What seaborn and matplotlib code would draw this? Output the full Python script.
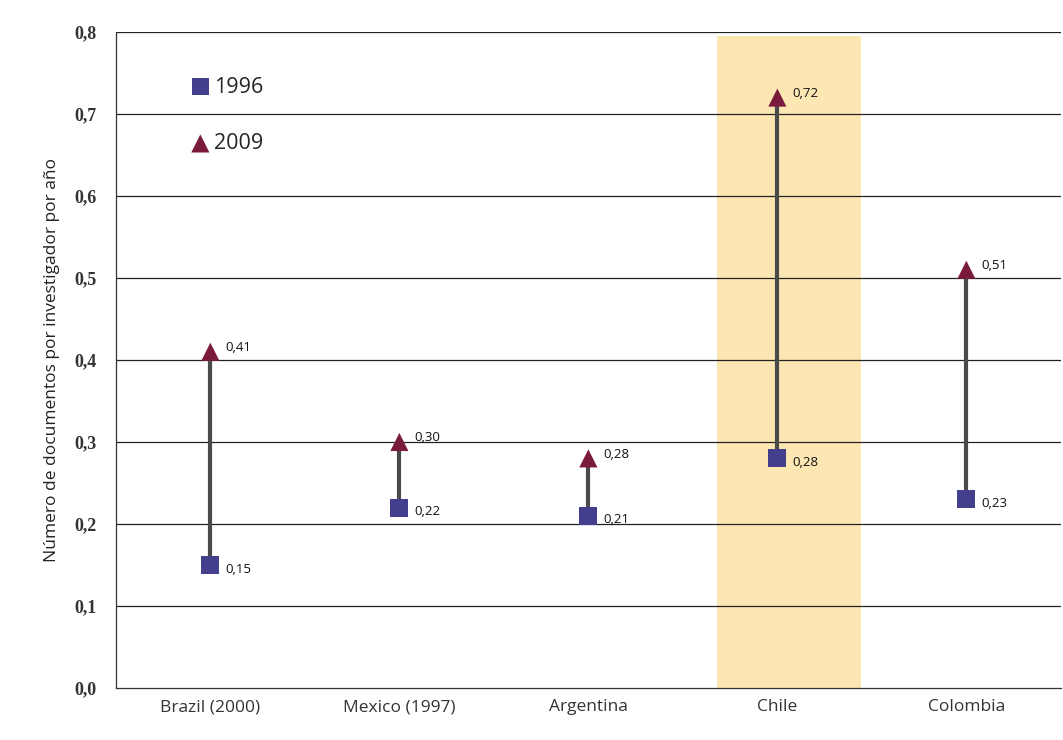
import matplotlib
matplotlib.use("Agg")
import matplotlib.pyplot as plt
from matplotlib.ticker import FixedLocator, FuncFormatter
import seaborn as sns
import pandas as pd

# Documents per researcher per year, two reference years
countries = ["Brazil (2000)", "Mexico (1997)", "Argentina", "Chile", "Colombia"]
values_1996 = [0.15, 0.22, 0.21, 0.28, 0.23]
values_2009 = [0.41, 0.30, 0.28, 0.72, 0.51]
highlight = "Chile"

sns.set_theme(style="white")
plt.rcParams["font.family"] = ["Open Sans", "DejaVu Sans"]

pos = list(range(len(countries)))
df = pd.DataFrame({
    "pos": pos + pos,
    "valor": values_1996 + values_2009,
    "serie": ["1996"] * len(countries) + ["2009"] * len(countries),
})

fig = plt.figure(figsize=(10.63, 7.40), dpi=100)
ax = fig.add_axes([0.109, 0.0703, 0.889, 0.8865])

# highlighted country band
hi = countries.index(highlight)
ax.axvspan(hi - 0.32, hi + 0.44, ymin=0, ymax=0.994, color="#FCE7B3", zorder=0, lw=0)

# horizontal gridlines
for y in [0.1, 0.2, 0.3, 0.4, 0.5, 0.6, 0.7, 0.8]:
    ax.axhline(y, color="#222222", lw=0.9, zorder=1)

# connectors between the two years
ax.vlines(pos, values_1996, values_2009, color="#4a4a4a", lw=3, zorder=2)

sns.scatterplot(data=df, x="pos", y="valor", hue="serie", style="serie",
                markers={"1996": "s", "2009": "^"},
                palette={"1996": "#433f8c", "2009": "#7a1a3c"},
                s=170, edgecolor="none", linewidth=0, ax=ax, zorder=3, legend=False)

def fmt(v, d=2):
    return f"{v:.{d}f}".replace(".", ",")

for x, v in zip(pos, values_1996):
    ax.annotate(fmt(v), (x, v), xytext=(11, -3), textcoords="offset points",
                fontsize=9.5, va="center", ha="left", color="#111111", zorder=4)
for x, v in zip(pos, values_2009):
    ax.annotate(fmt(v), (x, v), xytext=(11, 3), textcoords="offset points",
                fontsize=9.5, va="center", ha="left", color="#111111", zorder=4)

# legend inside the plot
h1 = ax.scatter([], [], marker="s", s=150, color="#433f8c", edgecolor="none")
h2 = ax.scatter([], [], marker="^", s=170, color="#7a1a3c", edgecolor="none")
ax.legend([h1, h2], ["1996", "2009"], loc="upper left", bbox_to_anchor=(0.078, 0.932),
          frameon=False, fontsize=15.5, handlelength=1.0, handletextpad=0.15,
          labelspacing=1.65, borderaxespad=0, borderpad=0)

ax.set_xlim(-0.5, len(countries) - 0.5)
ax.set_ylim(0, 0.8)
ax.set_xticks(pos)
ax.set_xticklabels(countries, fontsize=12.5, color="#333333")
ax.xaxis.set_minor_locator(FixedLocator([p + 0.5 for p in pos[:-1]] + [-0.5]))
ax.tick_params(axis="x", which="major", length=0, pad=8)
ax.tick_params(axis="x", which="minor", length=6, direction="out", color="#333333", width=0.8)
ax.set_yticks([i / 10 for i in range(9)])
ax.yaxis.set_major_formatter(FuncFormatter(lambda v, _: fmt(v, 1)))
ax.tick_params(axis="y", length=6, direction="out", color="#333333", width=0.8, pad=8)
for lab in ax.get_yticklabels():
    lab.set_fontweight("bold")
    lab.set_fontsize(13)
    lab.set_family(["Liberation Serif", "DejaVu Serif"])
    lab.set_color("#333333")

ax.set_xlabel("")
ax.set_ylabel("Número de documentos por investigador por año", fontsize=12.5,
              color="#222222", labelpad=10)

for side in ["top", "right"]:
    ax.spines[side].set_visible(False)
for side in ["left", "bottom"]:
    ax.spines[side].set_color("#333333")
    ax.spines[side].set_linewidth(0.9)

fig.savefig("out.png", dpi=100, facecolor="white")
